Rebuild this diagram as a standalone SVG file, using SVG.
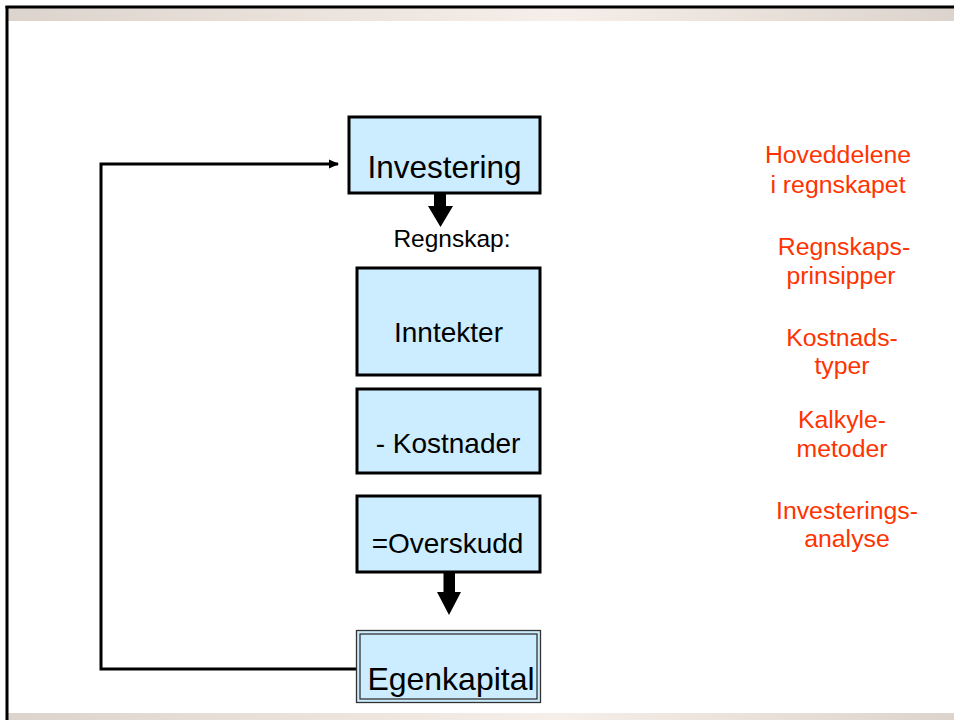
<svg xmlns="http://www.w3.org/2000/svg" width="954" height="720" viewBox="0 0 954 720">
<defs>
<linearGradient id="band" x1="0" y1="0" x2="1" y2="0">
<stop offset="0" stop-color="#DCD3CC"/>
<stop offset="0.58" stop-color="#F6EEE8"/>
<stop offset="1" stop-color="#DCD3CC"/>
</linearGradient>
<marker id="ah" markerWidth="12" markerHeight="12" refX="9" refY="6" orient="auto" markerUnits="userSpaceOnUse">
<path d="M0,1.5 L10,6 L0,10.5 Z" fill="#000"/>
</marker>
<style>
.box{fill:#CCECFF;stroke:#000;stroke-width:3}
.dbl{fill:none;stroke:#333;stroke-width:1.3}
.lbl{font-family:"Liberation Sans",Arial,sans-serif;fill:#000;text-anchor:middle}
.red{font-family:"Liberation Sans",Arial,sans-serif;fill:#FF3300;font-size:24.8px;text-anchor:middle}
.conn{fill:none;stroke:#000;stroke-width:3}
</style>
</defs>
<rect width="954" height="720" fill="#fff"/>
<rect x="7" y="8" width="947" height="13" fill="url(#band)"/>
<rect x="8" y="713" width="946" height="7" fill="url(#band)"/>
<line x1="5.5" y1="7" x2="954" y2="7" stroke="#000" stroke-width="3"/>
<line x1="7" y1="6" x2="7" y2="720" stroke="#000" stroke-width="3"/>

<g id="connectors">
<polyline class="conn" points="357,669 101,669 101,164 338,164" marker-end="url(#ah)"/>
<path id="arrow1" d="M434,194 H446 V206 H453 L440.5,227 L428,206 H434 Z" fill="#000"/>
<path id="arrow2" d="M443.5,572 H455 V592 H461 L449,615 L437,592 H443.5 Z" fill="#000"/>
</g>

<g id="node-investering">
<rect class="box" x="349" y="117" width="191" height="76"/>
<text class="lbl" x="444.5" y="178" font-size="31.5">Investering</text>
</g>
<text id="label-regnskap" class="lbl" x="452" y="247" font-size="24.5">Regnskap:</text>
<g id="node-inntekter">
<rect class="box" x="357" y="268" width="183" height="107"/>
<text class="lbl" x="448.5" y="342" font-size="28">Inntekter</text>
</g>
<g id="node-kostnader">
<rect class="box" x="357" y="389" width="183" height="84"/>
<text class="lbl" x="448" y="453" font-size="28">- Kostnader</text>
</g>
<g id="node-overskudd">
<rect class="box" x="357" y="496" width="183" height="76"/>
<text class="lbl" x="447.5" y="553" font-size="28">=Overskudd</text>
</g>
<g id="node-egenkapital">
<rect x="356" y="630" width="185" height="73" fill="#CCECFF"/>
<rect class="dbl" x="356.5" y="630.5" width="184" height="72"/>
<rect class="dbl" x="360" y="634" width="177" height="65"/>
<text class="lbl" x="451" y="690" font-size="32">Egenkapital</text>
</g>

<g id="topics">
<text class="red" x="838" y="163">Hoveddelene</text>
<text class="red" x="838" y="193">i regnskapet</text>
<text class="red" x="844" y="255">Regnskaps-</text>
<text class="red" x="841" y="284">prinsipper</text>
<text class="red" x="842" y="346">Kostnads-</text>
<text class="red" x="842" y="374">typer</text>
<text class="red" x="842" y="428">Kalkyle-</text>
<text class="red" x="842" y="457">metoder</text>
<text class="red" x="847" y="519">Investerings-</text>
<text class="red" x="847" y="547">analyse</text>
</g>
</svg>
